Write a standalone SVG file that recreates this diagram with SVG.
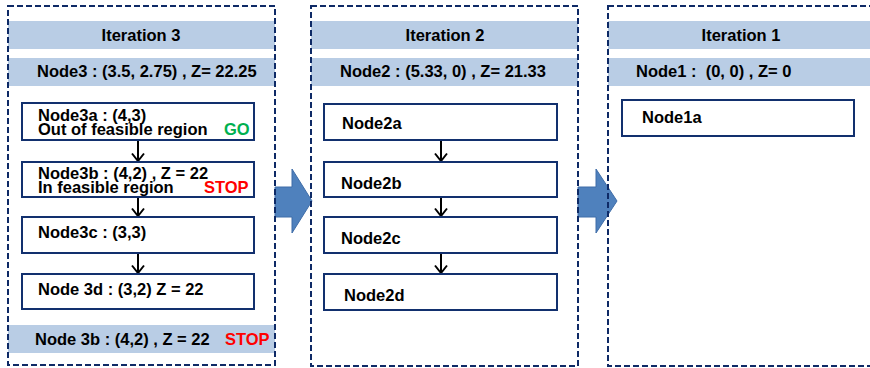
<svg xmlns="http://www.w3.org/2000/svg" width="870" height="368" viewBox="0 0 870 368">
<defs>
<style>
text{font-family:"Liberation Sans",Arial,sans-serif;font-weight:bold;font-size:16.5px;fill:#000;white-space:pre}
.panel{fill:none;stroke:#0E2A66;stroke-width:2;stroke-dasharray:6 3}
.band{fill:#B9CDE5}
.node{fill:#fff;stroke:#12306E;stroke-width:2}
.mid{text-anchor:middle}
.go{fill:#00B050}
.stop{fill:#FF0000}
.blk{fill:#4F81BD;stroke:#3F6DA8;stroke-width:1}
.arr{stroke:#000;stroke-width:2;fill:none;marker-end:url(#ah)}
</style>
<marker id="ah" viewBox="0 0 10 14" refX="9" refY="7" markerWidth="10" markerHeight="14" markerUnits="userSpaceOnUse" orient="auto">
<path d="M1.5,1 L9,7 L1.5,13" fill="none" stroke="#000" stroke-width="2"/>
</marker>
</defs>
<rect width="870" height="368" fill="#fff"/>
<g id="connectors">
<path class="blk" d="M275,187 H292 V169 L312,201 L292,233 V217 H275 Z"/>
<path class="blk" d="M578,187 H596 V169 L617,201 L596,233 V217 H578 Z"/>
<line class="arr" x1="138" y1="140" x2="138" y2="161"/>
<line class="arr" x1="138" y1="197" x2="138" y2="216"/>
<line class="arr" x1="138" y1="253" x2="138" y2="273"/>
<line class="arr" x1="441" y1="140" x2="441" y2="161"/>
<line class="arr" x1="441" y1="197" x2="441" y2="216"/>
<line class="arr" x1="441" y1="253" x2="441" y2="273"/>
</g>
<g id="iteration3">
<rect class="band" x="8" y="21" width="267" height="28"/>
<text class="mid" x="141" y="41">Iteration 3</text>
<rect class="band" x="8" y="58" width="267" height="28"/>
<text x="37" y="77">Node3 : (3.5, 2.75) , Z= 22.25</text>
<rect class="band" x="8" y="325" width="267" height="28"/>
<text x="35" y="345">Node 3b : (4,2) , Z = 22</text>
<text class="stop" x="225" y="345">STOP</text>
<rect class="panel" x="8" y="6" width="267" height="359"/>
</g>
<g id="node3a">
<rect class="node" x="22" y="103" width="232" height="37"/>
<text x="38" y="120.5">Node3a : (4,3)</text>
<text x="38" y="134.5">Out of feasible region</text>
<text class="go" x="224" y="134.5">GO</text>
</g>
<g id="node3b">
<rect class="node" x="22" y="162" width="232" height="35"/>
<text x="38" y="178.5">Node3b : (4,2) , Z = 22</text>
<text x="38" y="192.5">In feasible region</text>
<text class="stop" x="204" y="192.5">STOP</text>
</g>
<g id="node3c">
<rect class="node" x="22" y="217" width="232" height="36"/>
<text x="38" y="237.5">Node3c : (3,3)</text>
</g>
<g id="node3d">
<rect class="node" x="22" y="274" width="232" height="35"/>
<text x="38" y="294.5">Node 3d : (3,2) Z = 22</text>
</g>
<g id="iteration2">
<rect class="band" x="311" y="21" width="267" height="28"/>
<text class="mid" x="445" y="41">Iteration 2</text>
<rect class="band" x="311" y="58" width="267" height="28"/>
<text class="mid" x="443" y="77">Node2 : (5.33, 0) , Z= 21.33</text>
<rect class="panel" x="311" y="6" width="267" height="360"/>
</g>
<g id="node2a">
<rect class="node" x="324" y="104" width="233" height="36"/>
<text x="342" y="128.5">Node2a</text>
</g>
<g id="node2b">
<rect class="node" x="324" y="162" width="233" height="35"/>
<text x="341" y="188.5">Node2b</text>
</g>
<g id="node2c">
<rect class="node" x="324" y="217" width="233" height="36"/>
<text x="341" y="244">Node2c</text>
</g>
<g id="node2d">
<rect class="node" x="324" y="274" width="233" height="36"/>
<text x="344" y="300.5">Node2d</text>
</g>
<g id="iteration1">
<rect class="band" x="608" y="21" width="262" height="28"/>
<text class="mid" x="741" y="41">Iteration 1</text>
<rect class="band" x="608" y="58" width="262" height="28"/>
<text x="636" y="77">Node1 :  (0, 0) , Z= 0</text>
<rect class="panel" x="608" y="6" width="272" height="360"/>
</g>
<g id="node1a">
<rect class="node" x="622" y="100" width="232" height="36"/>
<text x="642" y="123">Node1a</text>
</g>
</svg>
